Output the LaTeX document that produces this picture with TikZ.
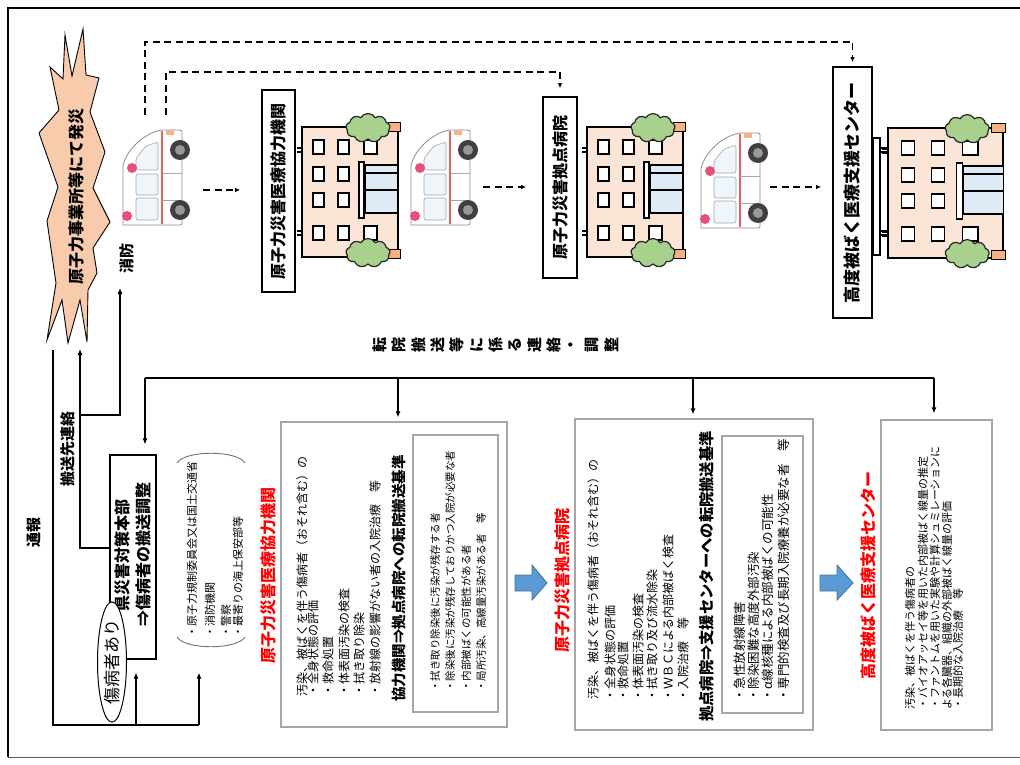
\documentclass[tikz,border=0pt]{standalone}
\usepackage{fontspec}
\usepackage{graphicx}
\setmainfont{Noto Sans CJK JP}
\usetikzlibrary{arrows.meta,shapes.symbols,shapes.geometric}

\newcommand{\fs}[1]{\fontsize{#1pt}{#1pt}\selectfont}
\newcommand{\vt}[1]{\rotatebox{90}{#1}}

\definecolor{peach}{HTML}{F8CBAD}
\definecolor{wall}{HTML}{FBE5D6}
\definecolor{leaf}{HTML}{A9D18E}
\definecolor{glass}{HTML}{DEEBF7}
\definecolor{beacon}{HTML}{F4B183}
\definecolor{siren}{HTML}{E8507A}
\definecolor{stripe}{HTML}{E8605A}
\definecolor{blueA}{HTML}{5B9BD5}
\definecolor{blueB}{HTML}{41719C}
\definecolor{boxgray}{HTML}{A6A6A6}

\tikzset{
  conn/.style={line width=1.1pt},
  arr/.style={conn,-{Latex[length=6pt,width=5pt]}},
  dasharr/.style={line width=1.3pt,dash pattern=on 7pt off 4.5pt,-{Latex[length=5pt,width=4.5pt]}},
  textline/.style={inner sep=0pt,anchor=south},
  sign/.style={draw,line width=1.6pt,fill=white,inner sep=0pt,font=\bfseries\fs{16}},
  panel/.style={draw=boxgray,line width=1.3pt,inner sep=0pt},
  redlabel/.style={inner sep=0pt,text=red,font=\bfseries\fs{16}},
  boldlabel/.style={inner sep=0pt,font=\bfseries\fs{15}},
  tree/.style={cloud,cloud puffs=9,cloud puff arc=120,aspect=1.5,minimum width=44pt,
    minimum height=29pt,draw=black!85,line width=1.2pt,fill=leaf,inner sep=0pt},
  flowarrow/.style={fill=blueA,draw=blueB,line width=0.8pt},
  ambulance/.pic={
    \draw[black!45,fill=white,line width=0.8pt] (1,95) -- (1,36)
      .. controls (4,20) and (22,3) .. (40,0) -- (57,0) .. controls (60,0) .. (60,4)
      -- (60,91) .. controls (60,95) .. (56,95) -- cycle;
    \draw[stripe,line width=2.2pt] (40,0.6) -- (40,94.4);
    \draw[black!35,fill=glass!50,line width=0.6pt,rounded corners=2pt]
      (14,40) -- (14,28) -- (24,16) -- (36,12) -- (36,40) -- cycle;
    \draw[black!35,fill=glass!50,line width=0.6pt,rounded corners=2pt]
      (14,44) rectangle (36,65) (14,68) rectangle (36,90);
    \draw[black!35,line width=0.6pt] (40,43) -- (60,43) (40,70) -- (60,70);
    \fill[siren] (10,38) circle[radius=5];
    \fill[siren] (5,86) circle[radius=5];
    \fill[beacon] (44,0) rectangle (52,5);
    \foreach \wy in {20,80}{
      \fill[black!75] (58,\wy) circle[radius=10];
      \fill[black!40] (58,\wy) circle[radius=5];
    }
  },
  building/.pic={
    \draw[line width=1.2pt] (-5,21) -- (0,21) (-5,25) -- (0,25) (-5,104) -- (0,104) (-5,108) -- (0,108);
    \draw[line width=1.6pt,fill=wall] (0,0) rectangle (96,130);
    \foreach \wx in {11,36}{\foreach \wy in {13,40,66,99}{
      \draw[line width=1.4pt,fill=white] (\wx,\wy) rectangle ++(11,14);}}
    \draw[line width=1.4pt,fill=white] (62,13) rectangle ++(13,14) (62,99) rectangle ++(13,14);
    \draw[line width=1.2pt,fill=glass] (63,38) rectangle (96,86);
    \draw[line width=1.2pt] (63,46) -- (96,46) (63,63) -- (96,63);
    \draw[line width=1.2pt,fill=white] (57,35) rectangle (62,91);
    \draw[line width=1pt,fill=beacon] (86,-4) rectangle (98,5) (86,122) rectangle (98,131);
    \node[tree] at (66,1) {};
    \node[tree] at (66,126) {};
  }
}

\begin{document}
\begin{tikzpicture}[x=1pt,y=-1pt]
\useasboundingbox (0,0) rectangle (1020,765);
\fill[white] (0,0) rectangle (1020,765);

% page frame
\draw[line width=2pt] (8,757) -- (8,8) -- (1022,8);
\draw[line width=1pt,black!65] (8,757) -- (1022,757);

% ---------- incident ----------
\draw[fill=peach,line width=0.9pt]
  (65,35) -- (72,76) -- (83,29) -- (86,75) -- (99,78) -- (90,112) -- (105,152) -- (93,188)
  -- (110,222) -- (93,248) -- (97,273) -- (88,290) -- (87,342) -- (80,300) -- (68,343)
  -- (62,300) -- (47,340) -- (56,283) -- (47,221) -- (58,187) -- (39,133) -- (59,110)
  -- (50,67) -- (63,79) -- cycle;
\node[inner sep=0pt,font=\bfseries\fs{16}] (burst) at (76,196) {\vt{原子力事業所等にて発災}};

% ---------- transport chain ----------
\node[inner sep=0pt,minimum width=68pt,minimum height=97pt,anchor=north west] (amb1) at (122,130) {};
\pic at (122,130) {ambulance};
\node[boldlabel] (fire) at (127,258) {\vt{消防}};

\node[sign,minimum width=33pt,minimum height=202pt] (lab1) at (278.5,191) {\vt{原子力災害医療協力機関}};
\pic at (302,127) {building};

\node[inner sep=0pt,minimum width=68pt,minimum height=97pt,anchor=north west] (amb2) at (410,130) {};
\pic at (410,130) {ambulance};

\node[sign,minimum width=34pt,minimum height=181pt] (lab2) at (560,187.5) {\vt{原子力災害拠点病院}};
\pic at (587,127) {building};

\node[inner sep=0pt,minimum width=68pt,minimum height=97pt,anchor=north west] (amb3) at (700,133) {};
\pic at (700,133) {ambulance};

\node[sign,minimum width=39pt,minimum height=251pt,font=\bfseries\fs{17}] (lab3) at (852.5,192.5) {\vt{高度被ばく医療支援センター}};
\draw[line width=1.2pt,fill=white] (873,138) rectangle (880,255);
\draw[line width=1.2pt] (880,148) -- (888,148) (880,152) -- (888,152) (880,231) -- (888,231) (880,235) -- (888,235);
\pic[xscale=1.2] at (888,128) {building};

% ambulance to receiving facility
\coordinate (amb1-out) at (203,190);
\coordinate (amb2-out) at (483,187);
\coordinate (amb3-out) at (770,187);
\draw[dasharr,shorten >=21pt] (amb1-out) -- (amb1-out -| lab1.west);
\draw[dasharr,shorten >=16pt] (amb2-out) -- (amb2-out -| lab2.west);
\draw[dasharr,shorten >=11pt] (amb3-out) -- (amb3-out -| lab3.west);

% direct routes from the scene
\coordinate (route-far) at (145,115);
\coordinate (route-near) at (166,115);
\draw[dasharr,shorten >=4pt] (route-far) -- (145,42) -| (lab3.north);
\draw[dasharr,shorten >=8pt] (route-near) -- (166,72) -| (lab2.north);

% ---------- coordination bus ----------
\foreach \c [count=\i] in {転,院,搬,送,等,に,係,る,連,絡,・,調,整}
  \node[inner sep=0pt,font=\bfseries\fs{15}] (relay\i) at ({380+(\i-1)*19.3},345) {\vt{\c}};

\coordinate (busL) at (145,378);
\coordinate (busA) at (398,378);
\coordinate (busB) at (693,378);
\coordinate (busR) at (934,378);

% ---------- prefectural headquarters ----------
\node[draw,line width=1.2pt,minimum width=46pt,minimum height=204pt,inner sep=0pt] (hq) at (133,557) {};
\node[inner sep=0pt,font=\bfseries\fs{16}] (hq1) at (122,555) {\vt{県災害対策本部}};
\node[inner sep=0pt,font=\bfseries\fs{16}] (hq2) at (143,554) {\vt{⇒傷病者の搬送調整}};
\node[ellipse,draw,line width=1pt,fill=white,minimum width=29pt,minimum height=120pt,inner sep=0pt]
  (injured) at (112,662) {\vt{\fs{17}傷病者あり}};

\node[boldlabel] (notify) at (34,532) {\vt{通報}};
\node[boldlabel] (dest) at (68,449) {\vt{搬送先連絡}};

% notified organisations
\node[inner sep=0pt,minimum width=68pt,minimum height=195pt] (orgs) at (211,550) {};
\draw[black!55,line width=0.9pt] (177,463) .. controls (185,450) and (237,450) .. (245,463);
\draw[black!55,line width=0.9pt] (177,637) .. controls (185,650) and (237,650) .. (245,637);
\node[textline,font=\fs{11}] (org1) at (192,638) {\vt{・原子力規制委員会又は国土交通省}};
\node[textline,font=\fs{11}] (org2) at (210,638) {\vt{・消防機関}};
\node[textline,font=\fs{11}] (org3) at (226,638) {\vt{・警察}};
\node[textline,font=\fs{11}] (org4) at (238,638) {\vt{・最寄りの海上保安部等}};

% ---------- panel A ----------
\node[redlabel] (tagA) at (268,575) {\vt{原子力災害医療協力機関}};
\node[panel,minimum width=226pt,minimum height=305pt] (boxA) at (394,574.5) {};
\node[textline,font=\fs{12}] (a1) at (302,697) {\vt{汚染、被ばくを伴う傷病者（おそれ含む）の}};
\node[textline,font=\fs{12}] (a2) at (313,697) {\vt{・全身状態の評価}};
\node[textline,font=\fs{12}] (a3) at (328,697) {\vt{・救命処置}};
\node[textline,font=\fs{12}] (a4) at (344,697) {\vt{・体表面汚染の検査}};
\node[textline,font=\fs{12}] (a5) at (359,697) {\vt{・拭き取り除染}};
\node[textline,font=\fs{12}] (a6) at (375,697) {\vt{・放射線の影響がない者の入院治療　等}};
\node[textline,font=\bfseries\fs{14.5}] (aH) at (399,702) {\vt{協力機関⇒拠点病院への転院搬送基準}};
\node[panel,minimum width=85pt,minimum height=277pt] (critA) at (455.5,573.5) {};
\node[textline,font=\fs{10.5}] (ac1) at (435,692) {\vt{・拭き取り除染後に汚染が残存する者}};
\node[textline,font=\fs{10.5}] (ac2) at (450,692) {\vt{・除染後に汚染が残存しておりかつ入院が必要な者}};
\node[textline,font=\fs{10.5}] (ac3) at (466,692) {\vt{・内部被ばくの可能性がある者}};
\node[textline,font=\fs{10.5}] (ac4) at (481,692) {\vt{・局所汚染、高線量汚染がある者　等}};

\draw[flowarrow] (515,575) -- (532,575) -- (532,565) -- (547,583) -- (532,600) -- (532,591) -- (515,591) -- cycle;

% ---------- panel B ----------
\node[redlabel] (tagB) at (562,580) {\vt{原子力災害拠点病院}};
\node[panel,minimum width=238pt,minimum height=311pt] (boxB) at (694,574.5) {};
\node[textline,font=\fs{12}] (b1) at (593,700) {\vt{汚染、被ばくを伴う傷病者（おそれ含む）の}};
\node[textline,font=\fs{12}] (b2) at (610,702) {\vt{・全身状態の評価}};
\node[textline,font=\fs{12}] (b3) at (623,702) {\vt{・救命処置}};
\node[textline,font=\fs{12}] (b4) at (638,702) {\vt{・体表面汚染の検査}};
\node[textline,font=\fs{12}] (b5) at (652,702) {\vt{・拭き取り及び流水除染}};
\node[textline,font=\fs{12}] (b6) at (668,702) {\vt{・ＷＢＣによる内部被ばく検査}};
\node[textline,font=\fs{12}] (b7) at (683,702) {\vt{・入院治療　等}};
\node[textline,font=\bfseries\fs{15.3}] (bH) at (707,722) {\vt{拠点病院⇒支援センターへの転院搬送基準}};
\node[panel,minimum width=81pt,minimum height=277pt] (critB) at (762.5,574.5) {};
\node[textline,font=\fs{12.5}] (bc1) at (740,702) {\vt{・急性放射線障害}};
\node[textline,font=\fs{12.5}] (bc2) at (754,702) {\vt{・除染困難な高度外部汚染}};
\node[textline,font=\fs{12.5}] (bc3) at (768,702) {\vt{・α線核種による内部被ばくの可能性}};
\node[textline,font=\fs{12.5}] (bc4) at (784,702) {\vt{・専門的検査及び長期入院療養が必要な者　等}};

\draw[flowarrow] (820,575) -- (837,575) -- (837,565) -- (853,583) -- (837,600) -- (837,591) -- (820,591) -- cycle;

% ---------- panel C ----------
\node[redlabel] (tagC) at (868,575) {\vt{高度被ばく医療支援センター}};
\node[panel,minimum width=111pt,minimum height=310pt] (boxC) at (936.5,575) {};
\node[textline,font=\fs{11}] (c1) at (910,710) {\vt{汚染、被ばくを伴う傷病者の}};
\node[textline,font=\fs{11}] (c2) at (923,710) {\vt{・バイオアッセイ等を用いた内部被ばく線量の推定}};
\node[textline,font=\fs{11}] (c3) at (935,710) {\vt{・ファントムを用いた実験や計算シュミレーションに}};
\node[textline,font=\fs{11}] (c4) at (947,710) {\vt{よる各臓器、組織の外部被ばく線量の評価}};
\node[textline,font=\fs{11}] (c5) at (958,710) {\vt{・長期的な入院治療　等}};

% ---------- connectors ----------
\draw[conn] (busL) -- (busR);
\draw[arr,shorten >=10pt] (busL) -- (busL |- hq.north);
\draw[arr,shorten >=4pt] (busA) -- (busA |- boxA.north);
\draw[arr,shorten >=4pt] (busB) -- (busB |- boxB.north);
\draw[arr,shorten >=6pt] (busR) -- (busR |- boxC.north);

% headquarters reports destination to the scene and fire service
\coordinate (burst-in) at (80,349);
\coordinate (dest-split) at (80,415);
\coordinate (fire-in) at (120,288);
\draw[arr] ([yshift=9pt]hq.west) -| (burst-in);
\draw[arr] (dest-split) -| (fire-in);

% initial notification
\coordinate (notify-top) at (53,350);
\coordinate (notify-corner) at (53,725);
\coordinate (notify-hq) at (136,725);
\coordinate (notify-orgs) at (199,725);
\draw[conn] (notify-top) -- (notify-corner) -- (notify-orgs);
\draw[arr,shorten >=13pt] (notify-hq) -- (notify-hq |- hq.south);
\draw[arr,shorten >=25pt] (notify-orgs) -- (notify-orgs |- orgs.south);
\end{tikzpicture}
\end{document}
